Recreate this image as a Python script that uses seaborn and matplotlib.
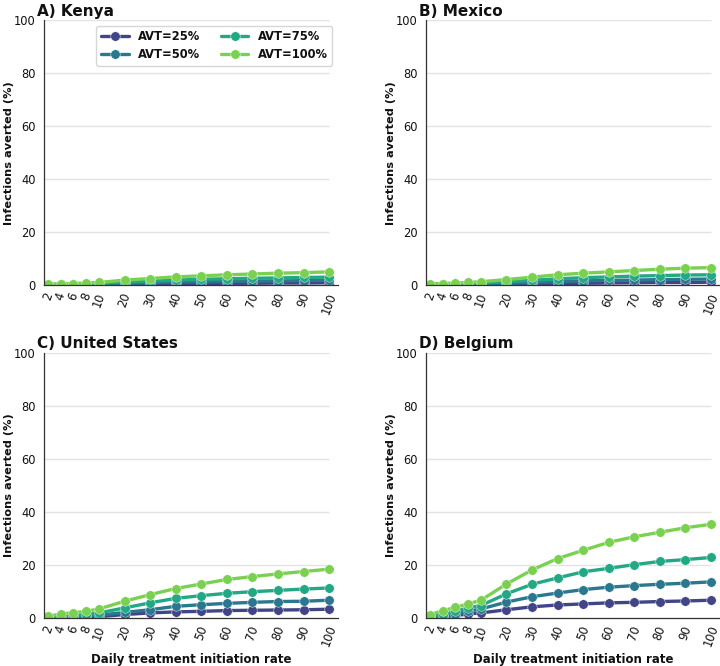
import numpy as np
import pandas as pd
import seaborn as sns
import matplotlib
matplotlib.use("Agg")
import matplotlib.pyplot as plt
from matplotlib.lines import Line2D

# daily treatment initiation rates (x axis)
rates = [2, 4, 6, 8, 10, 20, 30, 40, 50, 60, 70, 80, 90, 100]
avt_levels = ["AVT=25%", "AVT=50%", "AVT=75%", "AVT=100%"]
countries = ["A) Kenya", "B) Mexico", "C) United States", "D) Belgium"]

# infections averted (%)
kenya_25 = [0.1, 0.1, 0.1, 0.2, 0.2, 0.4, 0.5, 0.6, 0.7, 0.8, 0.8, 0.9, 0.9, 1.0]
kenya_50 = [0.2, 0.2, 0.3, 0.4, 0.4, 0.7, 1.0, 1.2, 1.4, 1.5, 1.6, 1.7, 1.8, 1.9]
kenya_75 = [0.3, 0.4, 0.5, 0.6, 0.7, 1.2, 1.6, 2.0, 2.3, 2.5, 2.7, 2.8, 3.0, 3.1]
kenya_100 = [0.5, 0.6, 0.7, 0.9, 1.1, 2.0, 2.6, 3.2, 3.6, 4.0, 4.3, 4.6, 4.8, 5.1]

mexico_25 = [0.1, 0.1, 0.1, 0.2, 0.2, 0.4, 0.6, 0.7, 0.8, 0.9, 1.0, 1.1, 1.1, 1.2]
mexico_50 = [0.2, 0.2, 0.3, 0.4, 0.5, 0.8, 1.1, 1.4, 1.7, 1.9, 2.0, 2.2, 2.3, 2.4]
mexico_75 = [0.3, 0.4, 0.5, 0.6, 0.8, 1.4, 1.9, 2.5, 2.9, 3.2, 3.5, 3.7, 3.9, 4.0]
mexico_100 = [0.6, 0.7, 0.9, 1.1, 1.4, 2.2, 3.1, 4.0, 4.6, 5.1, 5.6, 6.1, 6.5, 6.7]

us_25 = [0.1, 0.2, 0.3, 0.4, 0.5, 1.3, 1.9, 2.3, 2.5, 2.8, 2.9, 3.0, 3.1, 3.3]
us_50 = [0.2, 0.3, 0.5, 0.7, 1.0, 2.1, 3.1, 4.4, 5.0, 5.5, 5.9, 6.2, 6.3, 6.7]
us_75 = [0.3, 0.5, 0.9, 1.3, 1.9, 3.8, 5.7, 7.4, 8.4, 9.3, 9.9, 10.4, 10.9, 11.3]
us_100 = [0.6, 1.5, 2.0, 2.5, 3.4, 6.3, 8.8, 11.1, 12.8, 14.5, 15.6, 16.6, 17.5, 18.4]

belgium_25 = [0.2, 0.4, 0.9, 1.5, 1.9, 3.1, 4.2, 4.9, 5.3, 5.7, 5.9, 6.2, 6.4, 6.7]
belgium_50 = [0.4, 0.6, 1.5, 2.5, 3.4, 6.0, 8.0, 9.4, 10.7, 11.6, 12.2, 12.7, 13.1, 13.6]
belgium_75 = [0.8, 1.3, 2.5, 3.8, 4.7, 9.1, 12.7, 15.1, 17.4, 18.7, 20.1, 21.3, 22.0, 22.8]
belgium_100 = [1.3, 2.7, 4.0, 5.3, 6.7, 12.8, 18.1, 22.4, 25.5, 28.5, 30.6, 32.3, 34.0, 35.3]

series = {
    "A) Kenya": [kenya_25, kenya_50, kenya_75, kenya_100],
    "B) Mexico": [mexico_25, mexico_50, mexico_75, mexico_100],
    "C) United States": [us_25, us_50, us_75, us_100],
    "D) Belgium": [belgium_25, belgium_50, belgium_75, belgium_100],
}

# long form table for seaborn
rows = []
for c in countries:
    for avt, vals in zip(avt_levels, series[c]):
        for r, v in zip(rates, vals):
            rows.append((c, avt, r, v))
df = pd.DataFrame(rows, columns=["country", "avt", "rate", "averted"])


# piecewise x scale: 2..10 squeezed, 10..100 linear
def fwd(v):
    v = np.asarray(v, dtype=float)
    return np.where(v <= 10, v / 4.0, v / 10.0 + 1.5)


def inv(u):
    u = np.asarray(u, dtype=float)
    return np.where(u <= 2.5, u * 4.0, (u - 1.5) * 10.0)


sns.set_style("white")
plt.rcParams["font.family"] = ["DejaVu Sans"]
plt.rcParams.update({"text.color": "#111111", "axes.labelcolor": "#111111",
                     "xtick.color": "#111111", "ytick.color": "#111111"})
pal = sns.color_palette("viridis", 4)
ms = 6.8
lw = 2.4

fig, axes = plt.subplots(2, 2, figsize=(7.2, 6.66), dpi=100)
fig.subplots_adjust(left=0.0611, right=1.0, top=0.97, bottom=0.0721,
                    wspace=0.299, hspace=0.253)

for i, (ax, c) in enumerate(zip(axes.flat, countries)):
    sub = df[df["country"] == c]
    sns.lineplot(data=sub, x="rate", y="averted", hue="avt",
                 hue_order=avt_levels, palette=pal, marker="o",
                 markersize=ms, linewidth=lw, markeredgewidth=0.3,
                 ax=ax, legend=False)
    ax.set_xscale("function", functions=(fwd, inv))
    ax.set_xlim(1.4, 103.5)
    ax.set_ylim(0, 100)
    ax.set_yticks([0, 20, 40, 60, 80, 100])
    ax.set_xticks(rates)
    ax.set_xticklabels([str(r) for r in rates], rotation=70, fontsize=8.3)
    ax.tick_params(axis="y", labelsize=8.3, length=3.5, pad=2.5)
    ax.tick_params(axis="x", length=2.5, pad=1.5)
    ax.tick_params(axis="both", width=0.9, color="#333333")
    ax.hlines([20, 40, 60, 80, 100], 1.4, 100, color="#e3e3e3", lw=1, zorder=0)
    sns.despine(ax=ax)
    for s in ["left", "bottom"]:
        ax.spines[s].set_color("#333333")
        ax.spines[s].set_linewidth(0.9)
    ax.set_title(c, loc="left", x=-0.025, fontsize=11, fontweight="bold", pad=3)
    ax.set_ylabel("Infections averted (%)", fontsize=8.2, fontweight="bold")
    ax.yaxis.set_label_coords(-0.102, 0.5)
    if i >= 2:
        ax.set_xlabel("Daily treatment initiation rate", fontsize=8.5,
                      fontweight="bold", labelpad=3)
    else:
        ax.set_xlabel("")

# legend in panel A
handles = [Line2D([], [], color=pal[k], lw=lw, marker="o", markersize=ms,
                  markeredgewidth=0.3, markeredgecolor="w")
           for k in range(4)]
axes[0, 0].legend(handles, avt_levels, loc="upper right", ncol=2,
                  prop={"weight": "bold", "size": 8.3},
                  handlelength=2.4, columnspacing=1.8, labelspacing=0.4)

fig.savefig("out.png", dpi=100)
